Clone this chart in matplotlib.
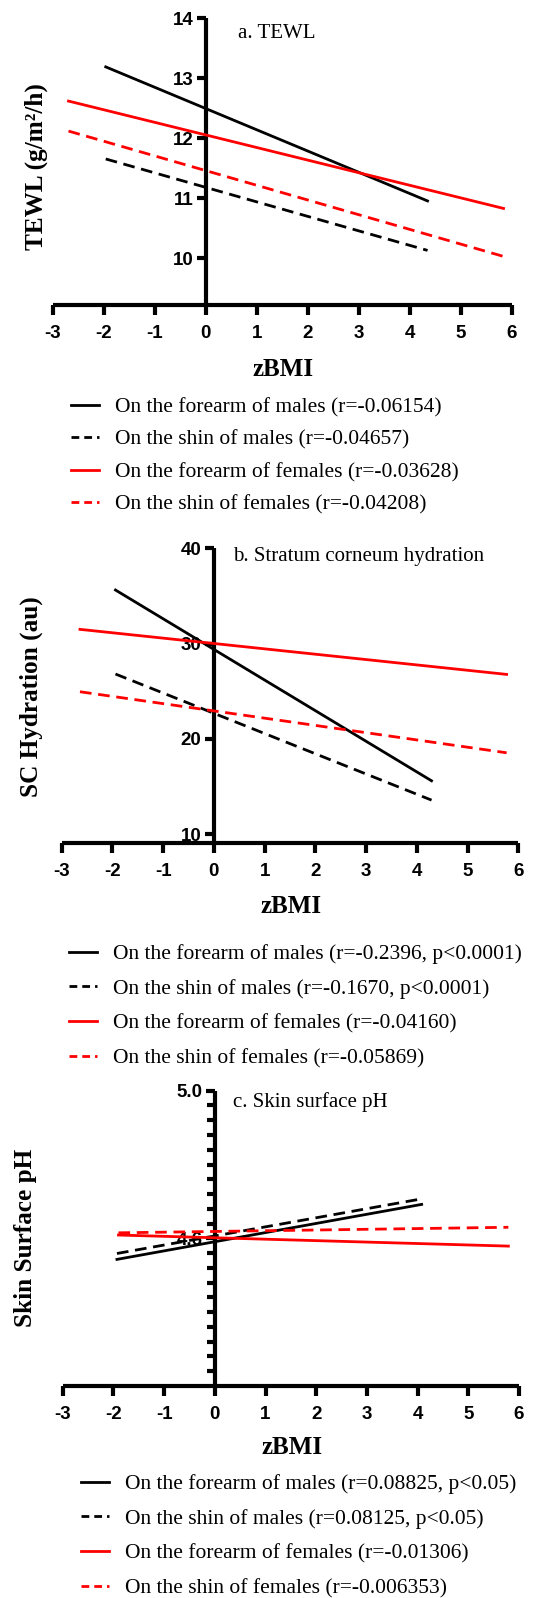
import matplotlib
matplotlib.use('Agg')
import matplotlib.pyplot as plt
from matplotlib.lines import Line2D

W, H = 535, 1598
SERIF = 'Liberation Serif'
SANS = 'Liberation Sans'
RED = '#ff0000'
BLACK = '#000000'

# ---------------- data ----------------
zbmi_ticks = [-3, -2, -1, 0, 1, 2, 3, 4, 5, 6]

# a. TEWL
tewl_male_x = [-1.96, 4.35]
tewl_female_x = [-2.69, 5.84]
tewl_forearm_m = [13.19, 10.955]
tewl_shin_m = [11.655, 10.13]
tewl_forearm_f = [12.62, 10.83]
tewl_shin_f = [12.12, 10.03]
tewl_yticks = [10, 11, 12, 13, 14]
tewl_labels = ['On the forearm of males (r=-0.06154)',
               'On the shin of males (r=-0.04657)',
               'On the forearm of females (r=-0.03628)',
               'On the shin of females (r=-0.04208)']

# b. Stratum corneum hydration
hyd_male_x = [-1.94, 4.29]
hyd_female_x = [-2.64, 5.77]
hyd_forearm_m = [35.62, 15.59]
hyd_shin_m = [26.8, 13.56]
hyd_forearm_f = [31.49, 26.76]
hyd_shin_f = [24.94, 18.53]
hyd_yticks = [10, 20, 30, 40]
hyd_labels = ['On the forearm of males (r=-0.2396, p<0.0001)',
              'On the shin of males (r=-0.1670, p<0.0001)',
              'On the forearm of females (r=-0.04160)',
              'On the shin of females (r=-0.05869)']

# c. Skin surface pH
ph_male_x = [-1.93, 4.08]
ph_female_x = [-1.90, 5.79]
ph_forearm_m = [4.543, 4.692]
ph_shin_m = [4.559, 4.707]
ph_forearm_f = [4.609, 4.579]
ph_shin_f = [4.615, 4.630]
ph_yticks = [4.6, 5.0]
ph_yticklabels = ['4.6', '5.0']
ph_minor = [4.24, 4.28, 4.32, 4.36, 4.40, 4.44, 4.48, 4.52, 4.56, 4.64,
            4.68, 4.72, 4.76, 4.80, 4.84, 4.88, 4.92, 4.96]
ph_labels = ['On the forearm of males (r=0.08825, p<0.05)',
             'On the shin of males (r=0.08125, p<0.05)',
             'On the forearm of females (r=-0.01306)',
             'On the shin of females (r=-0.006353)']

# ---------------- drawing ----------------
fig = plt.figure(figsize=(W / 100, H / 100), dpi=100)

DASH = (0, (4.2, 2.4))
DASH_LEG = (0, (2.8, 1.8))


def fx(px):
    return px / W


def fy(py):
    return 1 - py / H


def make_panel(x0, x1, ytop, ybot, ylim, series, yticks, yticklabels=None,
               minor=None, ylabel='', ylab_xy=(30, 0), title='', title_xy=(0, 0),
               xlab_y=0, labels=(), leg_xy=(0, 0), leg_spacing=0.56):
    ax = fig.add_axes([fx(x0), fy(ybot), (x1 - x0) / W, (ybot - ytop) / H])
    ax.set_xlim(-3, 6)
    ax.set_ylim(*ylim)
    for xs, ys, col, ls in series:
        ax.plot(xs, ys, color=col, lw=2, linestyle=ls, clip_on=False, zorder=3)
    ax.spines['top'].set_visible(False)
    ax.spines['right'].set_visible(False)
    ax.spines['left'].set_position(('data', 0))
    for s in ('left', 'bottom'):
        ax.spines[s].set_linewidth(3)
        ax.spines[s].set_capstyle('butt')
    ax.set_xticks(zbmi_ticks)
    ax.set_xticklabels([str(t) for t in zbmi_ticks])
    ax.set_yticks(yticks)
    if yticklabels is not None:
        ax.set_yticklabels(yticklabels)
    else:
        ax.set_yticklabels([str(t) for t in yticks])
    if minor is not None:
        ax.set_yticks(minor, minor=True)
        ax.tick_params(axis='y', which='minor', direction='out', length=5.5, width=3)
    ax.tick_params(axis='x', which='major', direction='out', length=7, width=3,
                   pad=7.5, labelsize=13.5)
    ax.tick_params(axis='y', which='major', direction='out', length=6.5, width=3,
                   pad=2.5, labelsize=13.5)
    for lbl in ax.get_xticklabels() + ax.get_yticklabels():
        lbl.set_fontfamily(SANS)
        lbl.set_fontweight('bold')
    ax.patch.set_alpha(0)

    fig.text(fx(ylab_xy[0]), fy(ylab_xy[1]), ylabel, rotation=90, ha='center',
             va='center', family=SERIF, weight='bold', fontsize=18.2)
    fig.text(fx(title_xy[0]), fy(title_xy[1]), title, ha='left', va='center',
             family=SERIF, fontsize=15)
    fig.text(fx((x0 + x1) / 2 + 1), fy(xlab_y), 'zBMI', ha='center', va='center',
             family=SERIF, weight='bold', fontsize=18)

    handles = [Line2D([], [], color=BLACK, lw=2, linestyle='-'),
               Line2D([], [], color=BLACK, lw=2, linestyle=DASH_LEG),
               Line2D([], [], color=RED, lw=2, linestyle='-'),
               Line2D([], [], color=RED, lw=2, linestyle=DASH_LEG)]
    fig.legend(handles, list(labels), loc='upper left',
               bbox_to_anchor=(fx(leg_xy[0]), fy(leg_xy[1])),
               bbox_transform=fig.transFigure, frameon=False,
               prop={'family': SERIF, 'size': 15.5}, handlelength=1.3,
               handletextpad=0.75, labelspacing=leg_spacing, borderpad=0,
               borderaxespad=0)
    return ax


make_panel(52.7, 511.7, 18.3, 305, (9.22, 14),
           [(tewl_male_x, tewl_forearm_m, BLACK, '-'),
            (tewl_male_x, tewl_shin_m, BLACK, DASH),
            (tewl_female_x, tewl_forearm_f, RED, '-'),
            (tewl_female_x, tewl_shin_f, RED, DASH)],
           tewl_yticks, ylabel='TEWL (g/m²/h)', ylab_xy=(36, 167),
           title='a. TEWL', title_xy=(238, 33), xlab_y=370,
           labels=tewl_labels, leg_xy=(71, 397), leg_spacing=0.58)

make_panel(61.7, 518.3, 548.3, 842.7, (9.09, 40),
           [(hyd_male_x, hyd_forearm_m, BLACK, '-'),
            (hyd_male_x, hyd_shin_m, BLACK, DASH),
            (hyd_female_x, hyd_forearm_f, RED, '-'),
            (hyd_female_x, hyd_shin_f, RED, DASH)],
           hyd_yticks, ylabel='SC Hydration (au)', ylab_xy=(31, 697),
           title='b. Stratum corneum hydration', title_xy=(233, 557),
           xlab_y=906.7, labels=hyd_labels, leg_xy=(69, 944), leg_spacing=0.68)

make_panel(62.7, 519, 1090.7, 1386, (4.2, 5.0),
           [(ph_male_x, ph_forearm_m, BLACK, '-'),
            (ph_male_x, ph_shin_m, BLACK, DASH),
            (ph_female_x, ph_forearm_f, RED, '-'),
            (ph_female_x, ph_shin_f, RED, DASH)],
           ph_yticks, yticklabels=ph_yticklabels, minor=ph_minor,
           ylabel='Skin Surface pH', ylab_xy=(26, 1238),
           title='c. Skin surface pH', title_xy=(233, 1102),
           xlab_y=1447, labels=ph_labels, leg_xy=(81, 1474), leg_spacing=0.68)

fig.savefig('out.png', dpi=100)
